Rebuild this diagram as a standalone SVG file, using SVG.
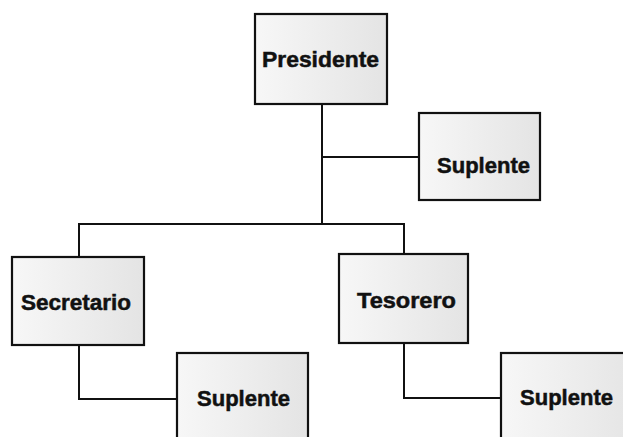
<svg xmlns="http://www.w3.org/2000/svg" width="623" height="437" viewBox="0 0 623 437">
<defs>
<linearGradient id="g" x1="0" y1="0" x2="1" y2="0">
<stop offset="0" stop-color="#f7f7f7"/>
<stop offset="1" stop-color="#e4e4e4"/>
</linearGradient>
<style>
.box{fill:url(#g);stroke:#111;stroke-width:2.2}
.lbl{font-family:"Liberation Sans",Arial,sans-serif;font-weight:bold;font-size:22px;fill:#111;stroke:#111;stroke-width:0.5}
.ln{fill:none;stroke:#111;stroke-width:2}
</style>
</defs>
<rect width="623" height="437" fill="#fff"/>
<g id="connectors">
<path class="ln" d="M322,104 V224"/>
<path class="ln" d="M322,157 H419"/>
<path class="ln" d="M79,257 V224 H404 V254"/>
<path class="ln" d="M79,345 V399 H177"/>
<path class="ln" d="M404,343 V398 H501"/>
</g>
<g id="presidente">
<rect class="box" x="255" y="14" width="132" height="90"/>
<text class="lbl" x="262" y="67" textLength="117" lengthAdjust="spacingAndGlyphs">Presidente</text>
</g>
<g id="suplente-presidente">
<rect class="box" x="419" y="113" width="121" height="87"/>
<text class="lbl" x="437" y="173" textLength="93" lengthAdjust="spacingAndGlyphs">Suplente</text>
</g>
<g id="secretario">
<rect class="box" x="12" y="257" width="132" height="88"/>
<text class="lbl" x="21" y="310" textLength="110" lengthAdjust="spacingAndGlyphs">Secretario</text>
</g>
<g id="tesorero">
<rect class="box" x="339" y="254" width="129" height="89"/>
<text class="lbl" x="357" y="308" textLength="99" lengthAdjust="spacingAndGlyphs">Tesorero</text>
</g>
<g id="suplente-secretario">
<rect class="box" x="177" y="353" width="131" height="100"/>
<text class="lbl" x="197" y="406" textLength="93" lengthAdjust="spacingAndGlyphs">Suplente</text>
</g>
<g id="suplente-tesorero">
<rect class="box" x="501" y="353" width="140" height="100"/>
<text class="lbl" x="520" y="405" textLength="93" lengthAdjust="spacingAndGlyphs">Suplente</text>
</g>
</svg>
